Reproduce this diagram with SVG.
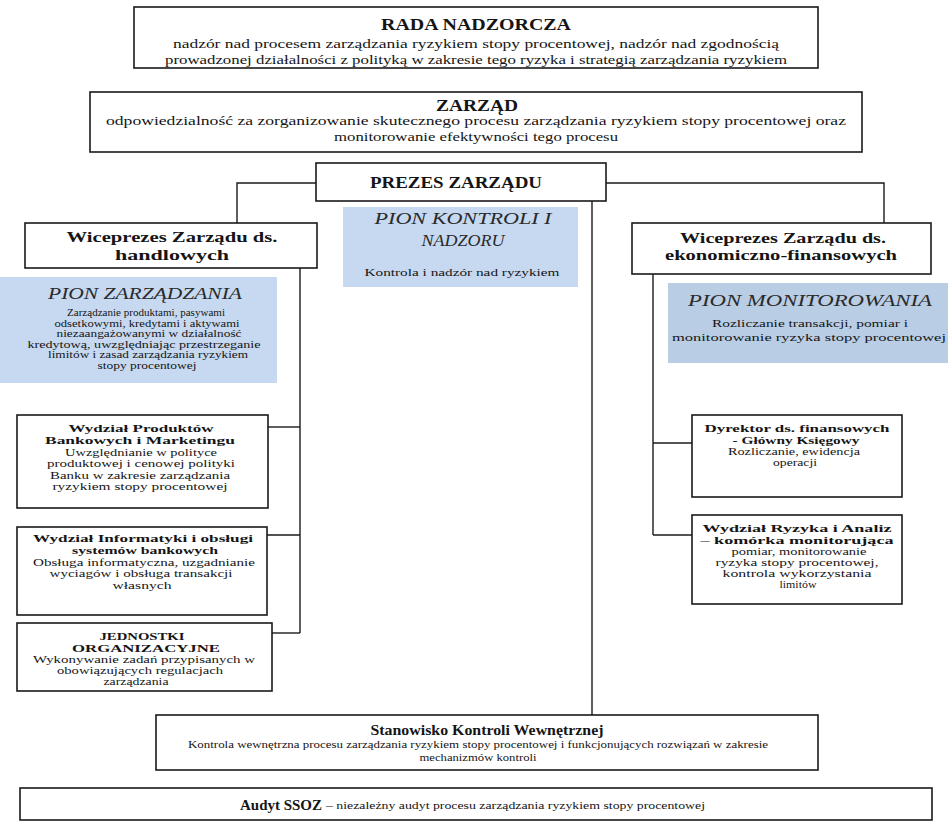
<svg xmlns="http://www.w3.org/2000/svg" width="948" height="825" viewBox="0 0 948 825">
<style>
.bg{fill:#fff}
.box{fill:#fff;stroke:#1a1a1a;stroke-width:1.6}
.pk{fill:#c6d9f1}
.pm{fill:#b9cde5}
.ln{stroke:#1a1a1a;stroke-width:1.4;fill:none}
text{font-family:"Liberation Serif","DejaVu Serif",serif;fill:#151515;text-anchor:middle;dominant-baseline:central}
.b{font-weight:bold}
.i{font-style:italic;fill:#2a2a2a}
.h1{font-size:17px}
.h2{font-size:15px}
.h3{font-size:11px}
.s12{font-size:12px}
.s11{font-size:10.2px}
.s10{font-size:9.3px}
</style>
<rect class="bg" width="948" height="825"/>
<g id="connectors">
<polyline class="ln" points="316,183 237,183 237,223"/>
<polyline class="ln" points="606,183 884,183 884,223"/>
<line class="ln" x1="592" y1="201" x2="592" y2="715"/>
<line class="ln" x1="300" y1="268" x2="300" y2="633"/>
<line class="ln" x1="268" y1="427" x2="300" y2="427"/>
<line class="ln" x1="267" y1="535" x2="300" y2="535"/>
<line class="ln" x1="272" y1="633" x2="300" y2="633"/>
<line class="ln" x1="653" y1="274" x2="653" y2="535"/>
<line class="ln" x1="653" y1="443" x2="692" y2="443"/>
<line class="ln" x1="653" y1="535" x2="692" y2="535"/>
</g>
<g id="rada">
<rect class="box" x="134" y="7" width="684" height="61"/>
<text class="b h1" x="476" y="24" textLength="190" lengthAdjust="spacingAndGlyphs">RADA NADZORCZA</text>
<text class="s12" x="476" y="44" textLength="606" lengthAdjust="spacingAndGlyphs">nadzór nad procesem zarządzania ryzykiem stopy procentowej, nadzór nad zgodnością</text>
<text class="s12" x="476" y="60" textLength="622" lengthAdjust="spacingAndGlyphs">prowadzonej działalności z polityką w zakresie tego ryzyka i strategią zarządzania ryzykiem</text>
</g>
<g id="zarzad">
<rect class="box" x="90" y="92" width="772" height="60"/>
<text class="b h1" x="477" y="105" textLength="82" lengthAdjust="spacingAndGlyphs">ZARZĄD</text>
<text class="s12" x="476" y="121" textLength="740" lengthAdjust="spacingAndGlyphs">odpowiedzialność za zorganizowanie skutecznego procesu zarządzania ryzykiem stopy procentowej oraz</text>
<text class="s12" x="476" y="137" textLength="284" lengthAdjust="spacingAndGlyphs">monitorowanie efektywności tego procesu</text>
</g>
<g id="prezes">
<rect class="box" x="316" y="163" width="290" height="38"/>
<text class="b" font-size="16" x="456" y="182" textLength="172" lengthAdjust="spacingAndGlyphs">PREZES ZARZĄDU</text>
</g>
<g id="wice-handl">
<rect class="box" x="25" y="223" width="292" height="45"/>
<text class="b h2" x="172" y="237" textLength="211" lengthAdjust="spacingAndGlyphs">Wiceprezes Zarządu ds.</text>
<text class="b h2" x="172" y="255" textLength="114" lengthAdjust="spacingAndGlyphs">handlowych</text>
</g>
<g id="pion-kontroli">
<rect class="pk" x="343" y="207" width="235" height="80"/>
<text class="i h1" x="463" y="218" textLength="177" lengthAdjust="spacingAndGlyphs">PION KONTROLI I</text>
<text class="i h1" x="463" y="240" textLength="83" lengthAdjust="spacingAndGlyphs">NADZORU</text>
<text class="s11" x="462" y="272" textLength="195" lengthAdjust="spacingAndGlyphs">Kontrola i nadzór nad ryzykiem</text>
</g>
<g id="wice-eko">
<rect class="box" x="632" y="223" width="299" height="51"/>
<text class="b h2" x="783" y="238" textLength="206" lengthAdjust="spacingAndGlyphs">Wiceprezes Zarządu ds.</text>
<text class="b h2" x="781" y="255" textLength="232" lengthAdjust="spacingAndGlyphs">ekonomiczno-finansowych</text>
</g>
<g id="pion-zarzadzania">
<rect class="pk" x="0" y="277" width="277" height="106"/>
<text class="i h1" x="145" y="293" textLength="194" lengthAdjust="spacingAndGlyphs">PION ZARZĄDZANIA</text>
<text class="s10" x="146" y="313" textLength="158" lengthAdjust="spacingAndGlyphs">Zarządzanie produktami, pasywami</text>
<text class="s10" x="147" y="323.5" textLength="185" lengthAdjust="spacingAndGlyphs">odsetkowymi, kredytami i aktywami</text>
<text class="s10" x="149" y="334" textLength="185" lengthAdjust="spacingAndGlyphs">niezaangażowanymi w działalność</text>
<text class="s10" x="144" y="344.5" textLength="233" lengthAdjust="spacingAndGlyphs">kredytową, uwzględniając przestrzeganie</text>
<text class="s10" x="148" y="355" textLength="200" lengthAdjust="spacingAndGlyphs">limitów i zasad zarządzania ryzykiem</text>
<text class="s10" x="147" y="365.5" textLength="99" lengthAdjust="spacingAndGlyphs">stopy procentowej</text>
</g>
<g id="pion-monitorowania">
<rect class="pm" x="668" y="283" width="280" height="80"/>
<text class="i h1" x="810" y="300" textLength="244" lengthAdjust="spacingAndGlyphs">PION MONITOROWANIA</text>
<text class="s11" x="810" y="323" textLength="196" lengthAdjust="spacingAndGlyphs">Rozliczanie transakcji, pomiar i</text>
<text class="s11" x="809" y="337" textLength="274" lengthAdjust="spacingAndGlyphs">monitorowanie ryzyka stopy procentowej</text>
</g>
<g id="wydzial-produktow">
<rect class="box" x="17" y="415" width="251" height="93"/>
<text class="b h3" x="141" y="427.5" textLength="145" lengthAdjust="spacingAndGlyphs">Wydział Produktów</text>
<text class="b h3" x="140" y="440" textLength="190" lengthAdjust="spacingAndGlyphs">Bankowych i Marketingu</text>
<text class="s11" x="141" y="452" textLength="152" lengthAdjust="spacingAndGlyphs">Uwzględnianie w polityce</text>
<text class="s11" x="141" y="463.5" textLength="188" lengthAdjust="spacingAndGlyphs">produktowej i cenowej polityki</text>
<text class="s11" x="140" y="475" textLength="180" lengthAdjust="spacingAndGlyphs">Banku w zakresie zarządzania</text>
<text class="s11" x="140" y="486.5" textLength="175" lengthAdjust="spacingAndGlyphs">ryzykiem stopy procentowej</text>
</g>
<g id="wydzial-informatyki">
<rect class="box" x="17" y="527" width="250" height="88"/>
<text class="b h3" x="143" y="537.5" textLength="220" lengthAdjust="spacingAndGlyphs">Wydział Informatyki i obsługi</text>
<text class="b h3" x="145" y="550" textLength="146" lengthAdjust="spacingAndGlyphs">systemów bankowych</text>
<text class="s11" x="144" y="562" textLength="222" lengthAdjust="spacingAndGlyphs">Obsługa informatyczna, uzgadnianie</text>
<text class="s11" x="141" y="573.5" textLength="183" lengthAdjust="spacingAndGlyphs">wyciagów i obsługa transakcji</text>
<text class="s11" x="142" y="585" textLength="59" lengthAdjust="spacingAndGlyphs">własnych</text>
</g>
<g id="jednostki">
<rect class="box" x="17" y="623" width="255" height="68"/>
<text class="b h3" x="142" y="635.5" textLength="85" lengthAdjust="spacingAndGlyphs">JEDNOSTKI</text>
<text class="b h3" x="146" y="648" textLength="148" lengthAdjust="spacingAndGlyphs">ORGANIZACYJNE</text>
<text class="s11" x="144" y="659.5" textLength="222" lengthAdjust="spacingAndGlyphs">Wykonywanie zadań przypisanych w</text>
<text class="s11" x="140" y="670.5" textLength="166" lengthAdjust="spacingAndGlyphs">obowiązujących regulacjach</text>
<text class="s11" x="136" y="681.5" textLength="65" lengthAdjust="spacingAndGlyphs">zarządzania</text>
</g>
<g id="dyrektor">
<rect class="box" x="692" y="415" width="210" height="82"/>
<text class="b h3" x="797" y="427.5" textLength="185" lengthAdjust="spacingAndGlyphs">Dyrektor ds. finansowych</text>
<text class="b h3" x="796" y="440" textLength="127" lengthAdjust="spacingAndGlyphs">- Główny Księgowy</text>
<text class="s11" x="794" y="451.5" textLength="132" lengthAdjust="spacingAndGlyphs">Rozliczanie, ewidencja</text>
<text class="s11" x="795" y="462.5" textLength="44" lengthAdjust="spacingAndGlyphs">operacji</text>
</g>
<g id="wydzial-ryzyka">
<rect class="box" x="692" y="515" width="210" height="89"/>
<text class="b h3" x="797" y="527.5" textLength="189" lengthAdjust="spacingAndGlyphs">Wydział Ryzyka i Analiz</text>
<text class="b h3" x="797" y="540" textLength="193" lengthAdjust="spacingAndGlyphs">– komórka monitorująca</text>
<text class="s11" x="799" y="551.5" textLength="135" lengthAdjust="spacingAndGlyphs">pomiar, monitorowanie</text>
<text class="s11" x="797" y="562.5" textLength="163" lengthAdjust="spacingAndGlyphs">ryzyka stopy procentowej,</text>
<text class="s11" x="797" y="573.5" textLength="149" lengthAdjust="spacingAndGlyphs">kontrola wykorzystania</text>
<text class="s11" x="798" y="584.5" textLength="37" lengthAdjust="spacingAndGlyphs">limitów</text>
</g>
<g id="stanowisko">
<rect class="box" x="156" y="715" width="662" height="55"/>
<text class="b" font-size="14" x="487" y="730" textLength="233" lengthAdjust="spacingAndGlyphs">Stanowisko Kontroli Wewnętrznej</text>
<text class="s11" x="478" y="744" textLength="580" lengthAdjust="spacingAndGlyphs">Kontrola wewnętrzna procesu zarządzania ryzykiem stopy procentowej i funkcjonujących rozwiązań w zakresie</text>
<text class="s11" x="478" y="757" textLength="117" lengthAdjust="spacingAndGlyphs">mechanizmów kontroli</text>
</g>
<g id="audyt">
<rect class="box" x="20" y="788" width="912" height="32"/>
<text class="b" font-size="14" x="240" y="805" style="text-anchor:start" textLength="82" lengthAdjust="spacingAndGlyphs">Audyt SSOZ</text>
<text class="s10" x="326" y="806" style="text-anchor:start" textLength="379" lengthAdjust="spacingAndGlyphs">– niezależny audyt procesu zarządzania ryzykiem stopy procentowej</text>
</g>
</svg>
